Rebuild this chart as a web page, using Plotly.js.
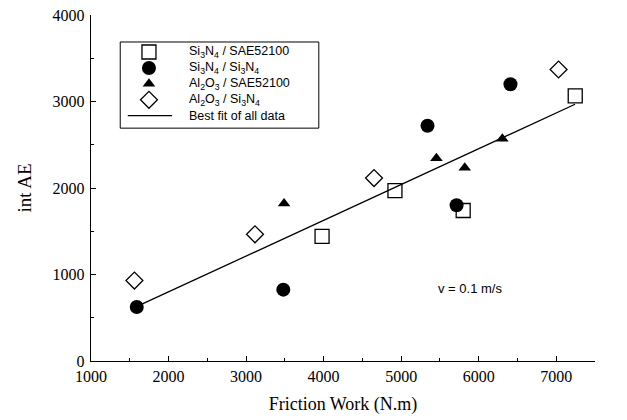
<!DOCTYPE html>
<html>
<head>
<meta charset="utf-8">
<script src="https://cdn.plot.ly/plotly-3.0.1.min.js"></script>
<style>html,body{margin:0;padding:0;background:#fff;}#chart{width:627px;height:420px;}</style>
</head>
<body>
<div id="chart"></div>
<script>
// Si3N4 / SAE52100
const sqX = [3980, 4920, 5800, 7245];
const sqY = [1440, 1970, 1740, 3065];
// Si3N4 / Si3N4
const ciX = [1590, 3480, 5340, 5715, 6410];
const ciY = [625, 825, 2720, 1800, 3200];
// Al2O3 / SAE52100
const trX = [3490, 5455, 5820, 6305];
const trY = [1820, 2345, 2235, 2570];
// Al2O3 / Si3N4
const diX = [1560, 3115, 4650, 7030];
const diY = [930, 1465, 2115, 3370];
// Best fit of all data
const fitX = [1593, 7243];
const fitY = [631, 2968];

const seriesNames = [
  'Si<sub>3</sub>N<sub>4</sub> / SAE52100',
  'Si<sub>3</sub>N<sub>4</sub> / Si<sub>3</sub>N<sub>4</sub>',
  'Al<sub>2</sub>O<sub>3</sub> / SAE52100',
  'Al<sub>2</sub>O<sub>3</sub> / Si<sub>3</sub>N<sub>4</sub>',
  'Best fit of all data'
];

const xTicks = [1000, 2000, 3000, 4000, 5000, 6000, 7000];
const yTicks = [0, 1000, 2000, 3000, 4000];

const markers = [
  {symbol: 'square-open', size: 14, color: '#000', line: {width: 1.3, color: '#000'}},
  {symbol: 'circle', size: 14, color: '#000'},
  {symbol: 'triangle-up', size: 11, color: '#000'},
  {symbol: 'diamond-open', size: 13, color: '#000', line: {width: 1.3, color: '#000'}}
];
const fitLine = {color: '#000', width: 1.3};

const dataX = [sqX, ciX, trX, diX];
const dataY = [sqY, ciY, trY, diY];

const traces = [];
for (let i = 0; i < 4; i++) {
  traces.push({x: dataX[i], y: dataY[i], mode: 'markers', type: 'scatter', name: seriesNames[i],
    marker: markers[i], showlegend: false});
}
traces.push({x: fitX, y: fitY, mode: 'lines', type: 'scatter', name: seriesNames[4],
  line: fitLine, showlegend: false});

// Hand-made legend (compact layout as in the original figure)
const lg = {x0: 0.058, x1: 0.452, y0: 0.673, y1: 0.922, sym: 0.115, txt: 0.19,
  rowTop: 0.893, rowStep: 0.046, lineX0: 0.073, lineX1: 0.161};
const annotations = [];
for (let i = 0; i < 5; i++) {
  const ry = lg.rowTop - i * lg.rowStep;
  annotations.push({xref: 'paper', yref: 'paper', x: lg.txt, y: ry, xanchor: 'left', yanchor: 'middle',
    text: seriesNames[i], showarrow: false, font: {family: 'Liberation Sans, Arial, sans-serif', size: 12.5, color: '#000'}});
  if (i < 4) {
    traces.push({x: [lg.sym], y: [ry], xaxis: 'x2', yaxis: 'y2', mode: 'markers', type: 'scatter',
      marker: markers[i], showlegend: false, hoverinfo: 'skip'});
  } else {
    traces.push({x: [lg.lineX0, lg.lineX1], y: [ry, ry], xaxis: 'x2', yaxis: 'y2', mode: 'lines', type: 'scatter',
      line: fitLine, showlegend: false, hoverinfo: 'skip'});
  }
}
annotations.push({x: 5883, y: 835, xref: 'x', yref: 'y', text: 'v = 0.1 m/s', showarrow: false,
  font: {family: 'Liberation Sans, Arial, sans-serif', size: 13, color: '#000'}});

const serif = 'Liberation Serif, Times New Roman, serif';

const layout = {
  width: 627, height: 420,
  margin: {l: 91, r: 32, t: 15, b: 59},
  paper_bgcolor: '#fff', plot_bgcolor: '#fff',
  showlegend: false,
  xaxis: {range: [1000, 7500], tickvals: xTicks, ticktext: xTicks.map(String),
    showgrid: false, zeroline: false, showline: true, linecolor: '#000', linewidth: 1.3,
    ticks: 'inside', ticklen: 5, tickcolor: '#000',
    minor: {dtick: 500, ticks: 'inside', ticklen: 3, tickcolor: '#000', showgrid: false},
    tickfont: {family: serif, size: 16, color: '#000'},
    title: {text: 'Friction Work (N.m)', font: {family: serif, size: 18, color: '#000'}, standoff: 14}},
  yaxis: {range: [0, 4000], tickvals: yTicks, ticktext: yTicks.map(String),
    showgrid: false, zeroline: false, showline: true, linecolor: '#000', linewidth: 1.3,
    ticks: 'inside', ticklen: 5, tickcolor: '#000', ticklabelstandoff: 2,
    minor: {dtick: 500, ticks: 'inside', ticklen: 3, tickcolor: '#000', showgrid: false},
    tickfont: {family: serif, size: 16, color: '#000'},
    title: {text: 'int AE', font: {family: serif, size: 19, color: '#000'}, standoff: 16}},
  xaxis2: {overlaying: 'x', range: [0, 1], visible: false, fixedrange: true},
  yaxis2: {overlaying: 'y', range: [0, 1], visible: false, fixedrange: true},
  shapes: [{type: 'rect', xref: 'paper', yref: 'paper', x0: lg.x0, x1: lg.x1, y0: lg.y0, y1: lg.y1,
    line: {color: '#000', width: 1}, fillcolor: '#fff', layer: 'below'}],
  annotations: annotations
};

Plotly.newPlot('chart', traces, layout, {displayModeBar: false, staticPlot: true});
</script>
</body>
</html>
